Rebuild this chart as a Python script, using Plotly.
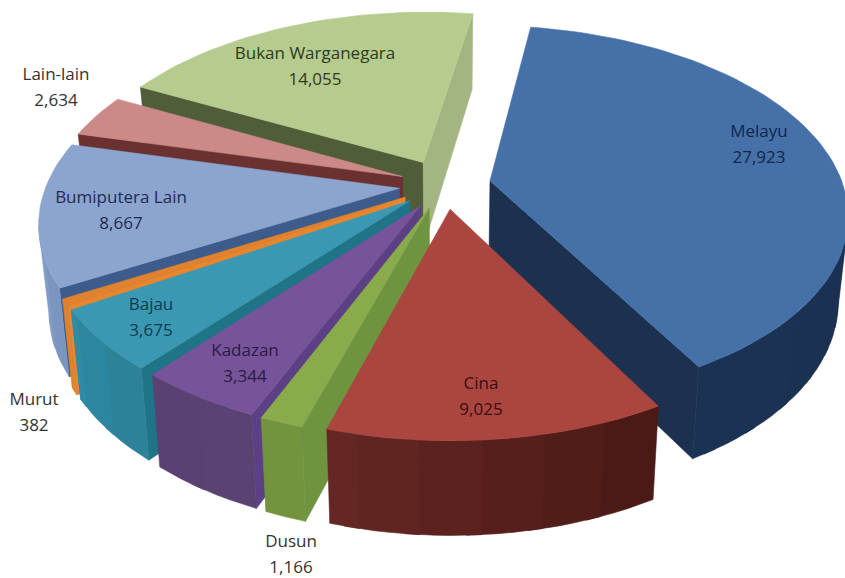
import math
import plotly.graph_objects as go

categories = ["Melayu", "Cina", "Dusun", "Kadazan", "Bajau", "Murut", "Bumiputera Lain", "Lain-lain", "Bukan Warganegara"]
values = [27923, 9025, 1166, 3344, 3675, 382, 8667, 2634, 14055]
explode = [0.13, 0.13, 0.13, 0.13, 0.13, 0.13, 0.13, 0.13, 0.14]

top_colors = ["#4571a8", "#aa4540", "#8aab4c", "#775499", "#3b98b2", "#e0822e", "#8ca5cf", "#cb8a88", "#b6cb8e"]
start_cut = ["#1c3150", "#5a201d", "#6f9440", "#5d3f85", "#1f7488", "#e8862f", "#3d5c8c", "#6b3130", "#4f5e38"]
end_cut = ["#1c3150", "#5a201d", "#7a9a44", "#5d3f85", "#1f7488", "#e8862f", "#3d5c8c", "#6b3130", "#a3b681"]
wall_a = ["#1a2f4f", "#4c1a16", "#73933f", "#5a4272", "#2b8299", "#e0822e", "#7a95c0", "#6b3130", "#9fb27d"]
wall_b = ["#1b3252", "#662825", "#70903e", "#584171", "#2f8ba6", "#e0822e", "#a9bcdb", "#6b3130", "#9fb27d"]
text_colors = ["#10264a", "#3a0d0b", "#333333", "#2b1a45", "#0f3a4f", "#333333", "#1e2c50", "#333333", "#2e3a1e"]

label_x = [759, 481, 291, 245, 151, 34, 121, 56, 315]
name_y = [133, 385, 543, 352, 306, 401, 199, 76, 55]
value_gap = 26

draw_order = [8, 7, 6, 5, 4, 3, 2, 0, 1]

START_ANGLE = 9.0
CX, CY = 445, 185
R, RK = 353, 183
PERSP, PERSP_Z = 0.17, 0.1
DEPTH = 84
SHRINK = 0.025


def project(X, Y, z):
    den = 1 + PERSP * Y
    return (CX + R * X / den * (1 - SHRINK * z),
            CY - RK * Y / den + DEPTH * z / (1 + PERSP_Z * Y))


def hex2rgb(h):
    return [int(h[i:i + 2], 16) for i in (1, 3, 5)]


def mix(a, b, t):
    ca, cb = hex2rgb(a), hex2rgb(b)
    return "rgb(%d,%d,%d)" % tuple(round(u + (v - u) * t) for u, v in zip(ca, cb))


def poly(fig, pts, color):
    xs = [p[0] for p in pts] + [pts[0][0]]
    ys = [p[1] for p in pts] + [pts[0][1]]
    fig.add_trace(go.Scatter(x=xs, y=ys, mode="lines", fill="toself", fillcolor=color,
                             line=dict(color=color, width=0.6), hoverinfo="skip", showlegend=False))


def cross(a, b):
    return a[0] * b[1] - a[1] * b[0]


total = sum(values)
fig = go.Figure()

bounds = []
acc = START_ANGLE
for v in values:
    bounds.append((acc, acc + 360.0 * v / total))
    acc += 360.0 * v / total

for i in draw_order:
    a0, a1 = bounds[i]
    mid = math.radians((a0 + a1) / 2)
    ax, ay = explode[i] * math.sin(mid), explode[i] * math.cos(mid)
    n = max(2, int((a1 - a0) / 2))
    angs = [math.radians(a0 + (a1 - a0) * k / n) for k in range(n + 1)]
    rim = [(ax + math.sin(t), ay + math.cos(t)) for t in angs]
    top = [project(x, y, 0) for x, y in rim]
    bot = [project(x, y, 1) for x, y in rim]
    apex_t, apex_b = project(ax, ay, 0), project(ax, ay, 1)
    inner = top[len(top) // 2]

    for outer_t, outer_b, col in ((top[0], bot[0], start_cut[i]), (top[-1], bot[-1], end_cut[i])):
        e = (outer_t[0] - apex_t[0], outer_t[1] - apex_t[1])
        s1 = cross(e, (0, 1))
        s2 = cross(e, (inner[0] - apex_t[0], inner[1] - apex_t[1]))
        if s1 * s2 < 0:
            poly(fig, [apex_t, outer_t, outer_b, apex_b], col)

    band = 4
    for k in range(0, n, band):
        k2 = min(n, k + band)
        t = (top[k2][0] - top[k][0], top[k2][1] - top[k][1])
        s1 = cross(t, (0, 1))
        s2 = cross(t, (apex_t[0] - top[k][0], apex_t[1] - top[k][1]))
        if s1 * s2 < 0:
            # a band runs one step under its neighbour, so no seam shows between them
            k3 = min(n, k2 + 1)
            idx = list(range(k, k3 + 1))
            poly(fig, [top[j] for j in idx] + [bot[j] for j in reversed(idx)],
                 mix(wall_a[i], wall_b[i], k / max(1, n - 1)))

    poly(fig, [apex_t] + top, top_colors[i])

fig.add_trace(go.Scatter(x=label_x, y=name_y, mode="text", text=categories,
                         textfont=dict(family="Open Sans", size=17, color=text_colors),
                         textposition="middle center", hoverinfo="skip", showlegend=False))
fig.add_trace(go.Scatter(x=label_x, y=[y + value_gap for y in name_y], mode="text",
                         text=[f"{v:,}" for v in values],
                         textfont=dict(family="Open Sans", size=17, color=text_colors),
                         textposition="middle center", hoverinfo="skip", showlegend=False))

fig.update_layout(width=845, height=578, margin=dict(l=0, r=0, t=0, b=0),
                  paper_bgcolor="white", plot_bgcolor="white", showlegend=False,
                  xaxis=dict(range=[0, 845], visible=False, fixedrange=True),
                  yaxis=dict(range=[578, 0], visible=False, fixedrange=True))
fig.write_html("out.html", config={"displayModeBar": False},
               post_script="document.body.style.margin='0';document.documentElement.style.overflow='hidden';")
